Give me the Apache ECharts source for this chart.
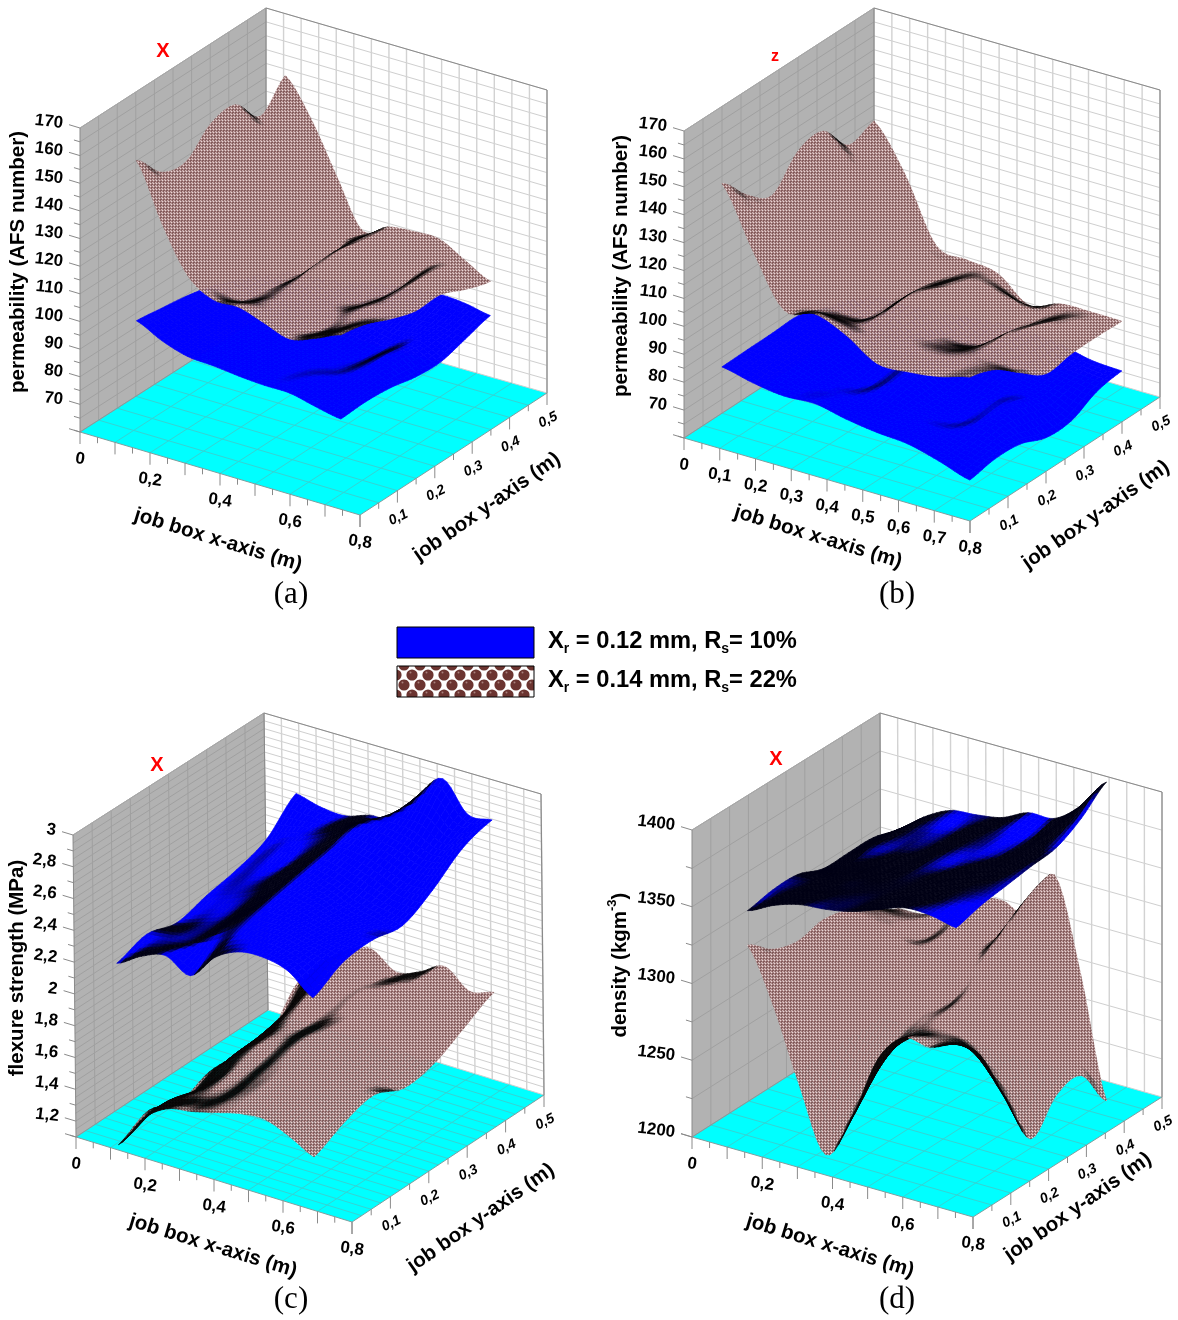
<!DOCTYPE html>
<html><head><meta charset="utf-8"><style>html,body{margin:0;background:#fff}#c{width:1178px;height:1320px;filter:blur(.4px)}</style>
<script src="https://cdn.jsdelivr.net/npm/echarts@6/dist/echarts.min.js"></script></head><body><div id="c"></div>
<script>
// rows run along job box y (front to back), columns along job box x
const permXBlue=[
[100,95.5,92.6,92,91,90.4,90.3,88.2,86.4],
[98.7,95,92,91,90,89,90,88,86.8],
[97.3,94,91,90,89,88,87,89,86],
[95,92,90,89,88,86,85,89,84],
[91.4,90,89,88,88,87,85,87.5,83.5],
[87.7,88,88,88,88,88,88,88,86],
[83,84,85,87,89,90,91,90.4,88.6]];
const permXBrown=[
[158,138,122,116,116,113,110,113,117],
[148,133,117,110,112,110,107,111,115],
[146,130,114,108,110,108,108,112,111],
[154,136,118,106,112,107,105,110,108],
[155,138,120,104,113,106,103,110,108],
[145,136,119,108,111,108,105,109,104],
[154,141,123,106,110,111,111,106,101]];
const permZBlue=[
[83,80.5,79,79.5,77.2,75.6,74.7,71.8,68.2],
[83.2,81,78,77,76,75,74,72,69.9],
[83.3,81,78,74,78,74,71,74,69.3],
[83.5,81,78,75,79,74,72,74,65.6],
[80.4,79,78,76,78,76,73,71,65.7],
[77.4,76,76,76,77,76,73,72,70.2],
[73,73,74,75,76,76,75,72.5,71.8]];
const permZBrown=[
[148.7,127.8,109.8,111.6,107.3,100.3,100.5,102,105],
[138.7,122,107,104,103,101,101,102,101.8],
[132.8,118,104,98,105,98,97,100,94.8],
[142.6,122,105,98,105,94,92,100,88.5],
[143.9,125,106,98,101,94,91,97,89.7],
[133,120,104,96,98,95,90,93,89.9],
[135.8,119.9,97.6,95.5,93.8,85.7,89.4,89.7,89.6]];
const flexBlue=[
[2.25,2.34,2.39,2.31,2.47,2.55,2.56,2.52,2.40],
[2.31,2.33,2.36,2.45,2.55,2.58,2.57,2.53,2.50],
[2.26,2.31,2.37,2.49,2.60,2.60,2.56,2.52,2.52],
[2.31,2.36,2.43,2.53,2.64,2.62,2.56,2.52,2.49],
[2.35,2.41,2.46,2.57,2.68,2.68,2.64,2.58,2.59],
[2.42,2.48,2.54,2.62,2.72,2.76,2.75,2.68,2.73],
[2.59,2.55,2.54,2.59,2.61,2.81,2.96,2.78,2.79]];
const flexBrown=[
[1.11,1.32,1.43,1.46,1.50,1.54,1.55,1.49,1.41],
[1.20,1.32,1.38,1.43,1.52,1.58,1.57,1.52,1.50],
[1.12,1.27,1.40,1.46,1.56,1.60,1.57,1.54,1.55],
[1.19,1.34,1.46,1.51,1.60,1.62,1.58,1.53,1.47],
[1.18,1.36,1.48,1.52,1.60,1.64,1.60,1.55,1.50],
[1.17,1.42,1.58,1.60,1.66,1.70,1.70,1.63,1.60],
[1.39,1.56,1.68,1.74,1.64,1.69,1.77,1.66,1.70]];
const densBlue=[
[1346.5,1354.7,1360,1361.7,1365,1371,1377,1377,1373.5],
[1349.7,1353,1358,1362,1366,1370,1374,1377,1378],
[1349.6,1352,1358,1362,1366,1369,1373,1377,1380.5],
[1343,1350,1356,1360,1366,1367,1372,1377,1383],
[1343,1353,1355,1358,1366,1369,1369.5,1378,1385],
[1342.8,1352,1356,1359,1366,1370,1370,1382,1394],
[1338,1351,1360,1362,1365,1373,1374,1387,1407.5]];
const densBrown=[
[1324,1289,1242,1202,1230,1273.5,1292.4,1291,1298],
[1311,1295,1268,1245,1255,1275,1285,1285,1280],
[1306,1300,1285,1272,1272,1280,1285,1270,1241.5],
[1309.5,1303,1292,1285,1283,1283,1292,1260,1205],
[1305.6,1300,1292,1290,1295,1300,1312,1270,1223],
[1296.4,1292,1287,1298,1305,1303,1330,1282,1225.5],
[1286,1287,1295.5,1307,1310.5,1306,1337,1277,1198.5]];

const permTicks=[70,80,90,100,110,120,130,140,150,160,170];
const flexTicks=[1.2,1.4,1.6,1.8,2,2.2,2.4,2.6,2.8,3];
const densTicks=[1200,1250,1300,1350,1400];
const xTicksSparse=[0,0.2,0.4,0.6,0.8];
const xTicksDense=[0,0.1,0.2,0.3,0.4,0.5,0.6,0.7,0.8];
const yTicks=[0.1,0.2,0.3,0.4,0.5];
const legendTexts=['X|r| = 0.12 mm, R|s|= 10%','X|r| = 0.14 mm, R|s|= 22%'];

const SANS='"Liberation Sans",Arial,sans-serif', SERIF='"Liberation Serif","Times New Roman",serif';
const panels=[
{cap:'(a)',capAt:[291,595],mark:'X',markAt:[163,51],markSize:20,A:[80,432],B:[360,515],C:[547,393],D:[266,313],At:[80,128],Dt:[266,8],Ct:[547,90],
 zMin:60,zMax:170,zTicks:permTicks,zMinor:5,zGrid:5,xTicks:xTicksSparse,dom:[.135,.865,.1,.9],floorY:.1,
 zTitle:'permeability (AFS number)',zTitleAt:[18.5,262],xTitleAt:[218,540],yTitleAt:[487,507],layers:[[permXBlue,0,[.06,.36]],[permXBrown,1,[.06,.36]]]},
{cap:'(b)',capAt:[897,595],mark:'z',markAt:[775,57],markSize:16,A:[684,438],B:[970,521],C:[1160,397],D:[874,314],At:[684,131],Dt:[874,8],Ct:[1160,90],
 zMin:60,zMax:170,zTicks:permTicks,zMinor:5,zGrid:5,xTicks:xTicksDense,dom:[.066,.933,.1,.9],floorY:.1,
 zTitle:'permeability (AFS number)',zTitleAt:[621.5,266],xTitleAt:[818,537],yTitleAt:[1096,515],layers:[[permZBlue,0,[.06,.36]],[permZBrown,1,[.06,.36]]]},
{cap:'(c)',capAt:[291,1300],mark:'X',markAt:[157,765],markSize:20,A:[76,1137],B:[352,1222],C:[544,1095],D:[268,1010],At:[73,835],Dt:[264,713],Ct:[541,794],
 zMin:1.1,zMax:3,zTicks:flexTicks,zMinor:.1,zGrid:.05,xTicks:xTicksSparse,dom:[.14,.85,.02,.96],floorY:.05,
 zTitle:'flexure strength (MPa)',zTitleAt:[17,968],xTitleAt:[213,1246],yTitleAt:[481,1218],layers:[[flexBrown,1,[.16,.38]],[flexBlue,0,[.22,.42]]]},
{cap:'(d)',capAt:[897,1300],mark:'X',markAt:[776,759],markSize:20,A:[692,1137],B:[973,1217],C:[1162,1097],D:[881,1017],At:[692,830],Dt:[880,713],Ct:[1162,792],
 zMin:1200,zMax:1400,zTicks:densTicks,zMinor:25,zGrid:25,xTicks:xTicksSparse,dom:[.13,.87,.1,.9],floorY:.1,
 zTitle:'density (kgm{sup|-3})',zTitleAt:[620,965],xTitleAt:[830,1246],yTitleAt:[1078,1207],layers:[[densBrown,1,[.1,.36]],[densBlue,0,[.3,.5]]]}
];

function lerp(a,b,t){return a+(b-a)*t}
function project(p,u,v,w){
  const fl=k=>lerp(lerp(p.A[k],p.B[k],u),lerp(p.D[k],p.C[k],u),v);
  const vt=k=>{const a=p.At[k]-p.A[k],d=p.Dt[k]-p.D[k],c=p.Ct[k]-p.C[k],b=a+c-d;return lerp(lerp(a,b,u),lerp(d,c,u),v)};
  return [fl(0)+w*vt(0),fl(1)+w*vt(1)];
}
const SUB=6;
function cr(p0,p1,p2,p3,t){return .5*((2*p1)+(-p0+p2)*t+(2*p0-5*p1+4*p2-p3)*t*t+(-p0+3*p1-3*p2+p3)*t*t*t)}
function upsample(rows){
  const nj=rows.length,ni=rows[0].length,g=[];
  const at=(j,i)=>rows[Math.max(0,Math.min(nj-1,j))][Math.max(0,Math.min(ni-1,i))];
  for(let J=0;J<=(nj-1)*SUB;J++){const r=[];const j=Math.min(nj-2,Math.floor(J/SUB)),tj=J/SUB-j;
    for(let I=0;I<=(ni-1)*SUB;I++){const i=Math.min(ni-2,Math.floor(I/SUB)),ti=I/SUB-i;
      const c=[];for(let m=-1;m<=2;m++)c.push(cr(at(j+m,i-1),at(j+m,i),at(j+m,i+1),at(j+m,i+2),ti));
      r.push(cr(c[0],c[1],c[2],c[3],tj));}
    g.push(r);}
  return g;
}
const tileCache={};
function tile(level){
  if(tileCache[level])return tileCache[level];
  const t=document.createElement('canvas');t.width=3;t.height=3;const x=t.getContext('2d');
  const b=level/16,m=c=>Math.round(c*b);
  x.fillStyle=`rgb(${m(176)},${m(140)},${m(140)})`;x.fillRect(0,0,3,3);
  x.fillStyle=`rgb(${m(232)},${m(214)},${m(214)})`;x.fillRect(0,0,1,1);
  x.fillStyle=`rgb(${m(130)},${m(90)},${m(90)})`;x.fillRect(1,1,2,2);
  x.fillStyle=`rgb(${m(205)},${m(176)},${m(176)})`;x.fillRect(2,2,1,1);
  return tileCache[level]={image:t,repeat:'repeat'};
}
function legendTile(){
  const t=document.createElement('canvas');t.width=16;t.height=20;const x=t.getContext('2d');
  x.fillStyle='#fff';x.fillRect(0,0,16,20);
  [[4,5],[12,15],[-4,15],[20,5],[12,-5],[4,25]].forEach(q=>{x.fillStyle='#6b3430';x.beginPath();x.arc(q[0],q[1],5.6,0,7);x.fill();
    x.fillStyle='#a8807c';x.beginPath();x.arc(q[0]-1.5,q[1]-2.5,1,0,7);x.fill();});
  return {image:t,repeat:'repeat'};
}
const clamp=(x,a,b)=>Math.max(a,Math.min(b,x));
const series=[];
function frameItems(p,api){
  const P=(u,v,w)=>api.coord(project(p,u,v,w));
  const kids=[];
  const poly=(pts,fill)=>kids.push({type:'polygon',shape:{points:pts},style:{fill,stroke:null}});
  const line=(a,b,color,lw)=>kids.push({type:'line',shape:{x1:a[0],y1:a[1],x2:b[0],y2:b[1]},style:{stroke:color,lineWidth:lw||1}});
  const text=(s,at,o)=>{const c=api.coord(at);kids.push({type:'text',x:c[0],y:c[1],rotation:(o.rot||0)*Math.PI/180,style:Object.assign({text:s,fill:'#000',fontFamily:SANS,fontWeight:'bold',fontSize:o.size,align:o.align||'center',verticalAlign:'middle'},o.extra||{})})};
  poly([P(0,0,0),P(0,0,1),P(0,1,1),P(0,1,0)],'#b2b2b2');
  poly([P(0,1,0),P(0,1,1),P(1,1,1),P(1,1,0)],'#ffffff');
  poly([P(0,0,0),P(1,0,0),P(1,1,0),P(0,1,0)],'#00ffff');
  const range=p.zMax-p.zMin;
  const first=Math.ceil(p.zMin/p.zGrid-1e-6);
  for(let n=first;n*p.zGrid<=p.zMax+1e-6;n++){const w=(n*p.zGrid-p.zMin)/range;
    line(P(0,0,w),P(0,1,w),'#a0a0a0',1);line(P(0,1,w),P(1,1,w),'#cfcfcf',1);}
  for(let k=1;k<=10;k++)line(P(0,k/10,0),P(0,k/10,1),'#a0a0a0',1);
  for(let k=1;k<=16;k++)line(P(k/16,1,0),P(k/16,1,1),'#d2d2d2',1.4);
  for(let k=1;k<8;k++)line(P(k/8,0,0),P(k/8,1,0),'#35d4d4',1);
  const fy=p.floorY;for(let k=fy;k<1-1e-6;k+=fy)line(P(0,k,0),P(1,k,0),'#35d4d4',1);
  line(P(0,1,1),P(1,1,1),'#8a8a8a',1);line(P(1,1,1),P(1,1,0),'#8a8a8a',1.2);line(P(0,0,1),P(0,1,1),'#a8a8a8',1);
  line(P(0,0,0),P(1,0,0),'#7f9f9f',1);line(P(1,0,0),P(1,1,0),'#7f9f9f',1);line(P(0,0,0),P(0,1,0),'#7f9f9f',1);line(P(0,1,0),P(0,1,1),'#8a8a8a',1);
  line(P(0,0,0),P(0,0,1),'#8a8a8a',1);
  for(let n=Math.ceil(p.zMin/p.zMinor-1e-6);n*p.zMinor<=p.zMax+1e-6;n++){const val=n*p.zMinor,w=(val-p.zMin)/range,a=P(0,0,w);
    const major=p.zTicks.some(t=>Math.abs(t-val)<1e-6);const len=major?1:.55;
    line(a,[a[0]-11*len,a[1]-3.3*len],'#8a8a8a',1);}
  const o0=P(0,0,0);line(o0,[o0[0]-11,o0[1]-3.3],'#8a8a8a',1);
  p.zTicks.forEach(t=>{const w=(t-p.zMin)/range,q=project(p,0,0,w);
    text(String(t).replace('.',','),[q[0]-17,q[1]-4.5],{size:17,align:'right',rot:-7});});
  for(let k=0;k<=16;k++){const a=P(k/16,0,0),big=k%2===0;line(a,[a[0],a[1]+(big?12:6)],'#8a8a8a',1);}
  p.xTicks.forEach(t=>{const q=project(p,t/.8,0,0);text(String(t).replace('.',','),[q[0],q[1]+27],{size:17,rot:-8});});
  for(let k=0;k<=10;k++){const a=P(1,k/10,0),big=k%2===0;line(a,[a[0],a[1]+(big?12:6)],'#8a8a8a',1);}
  yTicks.forEach(t=>{const q=project(p,1,t/.5,0);text(String(t).replace('.',','),[q[0]+1,q[1]+27],{size:14,rot:26,extra:{fontStyle:'italic'}});});
  const isRich=p.zTitle.includes('{');
  text(isRich?'{t|density (kgm}{sup|-3}{t|)}':p.zTitle,p.zTitleAt,{size:20.5,rot:90,extra:isRich?{rich:{t:{fontSize:20.5,fontWeight:'bold',fontFamily:SANS,lineHeight:28,fill:'#000'},sup:{fontSize:13,fontWeight:'bold',fontFamily:SANS,lineHeight:28,verticalAlign:'top',fill:'#000'}}}:{}});
  text('job box x-axis (m)',p.xTitleAt,{size:20.5,rot:-17});
  text('job box y-axis (m)',p.yTitleAt,{size:20.5,rot:35});
  text(p.mark,p.markAt,{size:p.markSize,extra:{fill:'#f00',fontWeight:'bold'}});
  text(p.cap,p.capAt,{size:31,extra:{fontFamily:SERIF,fontWeight:'normal'}});
  return {type:'group',children:kids};
}
series.push({type:'custom',coordinateSystem:'cartesian2d',silent:true,animation:false,z:1,
  data:panels.map((p,i)=>[i]),encode:{x:0,y:0},
  renderItem:(params,api)=>frameItems(panels[params.dataIndex],api),clip:false});
let zz=2;
panels.forEach(p=>{
  const row1=[p.B[0]-p.A[0],p.D[0]-p.A[0],p.At[0]-p.A[0]],row2=[p.A[1]-p.B[1],p.A[1]-p.D[1],p.A[1]-p.At[1]];
  let V=[row1[1]*row2[2]-row1[2]*row2[1],row1[2]*row2[0]-row1[0]*row2[2],row1[0]*row2[1]-row1[1]*row2[0]];
  const nV=Math.hypot(V[0],V[1],V[2]);V=V.map(c=>c/nV);
  p.layers.forEach(([rows,kind,lit])=>{
    const g=upsample(rows),nj=g.length,ni=g[0].length,cells=[];
    const [u0,u1,v0,v1]=p.dom,range=p.zMax-p.zMin;
    const du=(u1-u0)/(ni-1),dv=(v1-v0)/(nj-1);
    for(let j=nj-2;j>=0;j--)for(let i=0;i<ni-1;i++)cells.push([i,j]);
    const uv=(i,j)=>[u0+du*i,v0+dv*j,(g[j][i]-p.zMin)/range];
    series.push({type:'custom',coordinateSystem:'cartesian2d',silent:true,animation:false,progressive:0,z:zz++,clip:false,
      data:cells,encode:{x:0,y:1},
      renderItem:(params,api)=>{
        const [i,j]=cells[params.dataIndex];
        const a=uv(i,j),b=uv(i+1,j),c=uv(i+1,j+1),d=uv(i,j+1);
        const wu=((b[2]-a[2])+(c[2]-d[2]))/(2*du),wv=((d[2]-a[2])+(c[2]-b[2]))/(2*dv);
        const s=(-wu*V[0]-wv*V[1]+V[2])/Math.hypot(wu,wv,1);
        let t=clamp((s-lit[0])/(lit[1]-lit[0]),0,1);t=t*t*(3-2*t);
        const pts=[a,b,c,d].map(q=>api.coord(project(p,q[0],q[1],q[2])));
        let fill;
        if(kind===0){fill=`rgb(0,0,${Math.round(20+235*t)})`;}
        else{fill=tile(Math.max(1,Math.round(t*16)));}
        return {type:'polygon',shape:{points:pts},style:{fill,stroke:fill,lineWidth:.7}};
      }});
  });
});
const legendItems=[{y:627,h:31,kind:0,text:legendTexts[0]},{y:666,h:31,kind:1,text:legendTexts[1]}];
series.push({type:'custom',coordinateSystem:'cartesian2d',silent:true,animation:false,z:zz++,clip:false,
  data:legendItems.map((l,i)=>[i]),encode:{x:0,y:0},
  renderItem:(params,api)=>{
    const l=legendItems[params.dataIndex];
    const a=api.coord([397,l.y]),b=api.coord([534,l.y+l.h]);
    const parts=l.text.split('|');
    const s=`{t|${parts[0]}}{s|${parts[1]}}{t|${parts[2]}}{s|${parts[3]}}{t|${parts[4]}}`;
    const c=api.coord([548,l.y+l.h/2-1]);
    return {type:'group',children:[
      {type:'rect',shape:{x:a[0],y:a[1],width:b[0]-a[0],height:b[1]-a[1]},style:{fill:l.kind===0?'#0000ff':legendTile(),stroke:'#000',lineWidth:1}},
      {type:'text',x:c[0],y:c[1],style:{text:s,align:'left',verticalAlign:'middle',rich:{
        t:{fontSize:23.7,fontWeight:'bold',fontFamily:SANS,lineHeight:30,fill:'#000'},
        s:{fontSize:14,fontWeight:'bold',fontFamily:SANS,lineHeight:30,verticalAlign:'bottom',fill:'#000'}}}}
    ]};
  }});
const chart=echarts.init(document.getElementById('c'),null,{renderer:'canvas',width:1178,height:1320});
chart.setOption({animation:false,backgroundColor:'#fff',
  grid:{left:0,right:0,top:0,bottom:0},
  xAxis:{type:'value',min:0,max:1178,show:false},
  yAxis:{type:'value',min:0,max:1320,inverse:true,show:false},
  series});
</script></body></html>
